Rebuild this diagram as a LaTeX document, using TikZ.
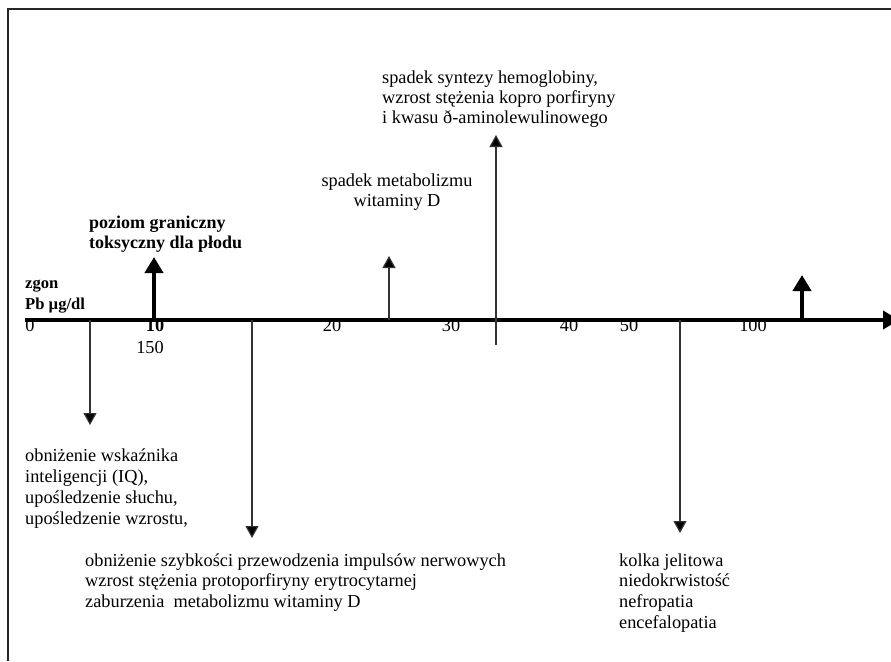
\documentclass[tikz,border=0pt]{standalone}
\usepackage{fontspec}
\setmainfont{Liberation Serif}
\usetikzlibrary{arrows.meta}
\newcommand\mlinesl[1]{\begin{tabular}[t]{@{}l@{}}#1\end{tabular}}
\newcommand\mlinesc[1]{\begin{tabular}[t]{@{}c@{}}#1\end{tabular}}
\tikzset{
  txt/.style={anchor=base west, inner sep=0pt, font=\fontsize{18.3}{20.7}\selectfont},
  txtc/.style={anchor=base, inner sep=0pt, font=\fontsize{18.3}{20.7}\selectfont},
  num/.style={anchor=base, inner sep=0pt, font=\fontsize{18.3}{20.7}\selectfont},
  thinarr/.style={line width=1.2pt, draw=black!80, -{Triangle[width=13pt,length=12pt,fill=black]}},
  thinline/.style={line width=1.2pt, draw=black!80},
  thickarr/.style={line width=4pt, -{Triangle[width=18pt,length=16pt]}},
  axisline/.style={line width=4pt, -{Triangle[width=18pt,length=16pt]}},
  frameline/.style={line width=1.3pt, draw=black!85},
}
\begin{document}
\begin{tikzpicture}[x=1pt, y=-1pt]
\clip (0,0) rectangle (891,661);
\fill[white] (0,0) rectangle (891,661);
% frame
\draw[frameline] (8,661) -- (8,9) -- (891,9);

% tick labels (drawn before the axis so the axis covers their tops)
\node[num] (n0) at (30,331) {0};
\node[num, font=\fontsize{18.3}{20.7}\selectfont\bfseries] (n10) at (155,331) {10};
\node[num] (n150) at (150,353) {150};
\node[num] (n20) at (332,331) {20};
\node[num] (n30) at (451,331) {30};
\node[num] (n40) at (569,331) {40};
\node[num] (n50) at (629,331) {50};
\node[num] (n100) at (753,331) {100};

% axis
\coordinate (ax0) at (25,320);
\coordinate (ax1) at (899,320);
\draw[axisline] (ax0) -- (ax1);

% points on the axis and arrow ends
\coordinate (p90) at (90,320);   \coordinate (e90) at (90,425);
\coordinate (p154) at (154,322); \coordinate (e154) at (154,257);
\coordinate (p252) at (252,320); \coordinate (e252) at (252,538);
\coordinate (p389) at (389,320); \coordinate (e389) at (389,256);
\coordinate (p496) at (496,345); \coordinate (e496) at (496,135);
\coordinate (p680) at (680,320); \coordinate (e680) at (680,533);
\coordinate (p802) at (802,322); \coordinate (e802) at (802,275);

\draw[thinarr] (p90) -- (e90);
\draw[thinarr] (p252) -- (e252);
\draw[thinarr] (p389) -- (e389);
\draw[thinarr] (p496) -- (e496);
\draw[thinarr] (p680) -- (e680);
\draw[thickarr] (p154) -- (e154);
\draw[thickarr] (p802) -- (e802);

% texts
\node[txt, font=\fontsize{16.6}{21}\selectfont\bfseries] (zgon) at (25,288)
  {\mlinesl{zgon\\Pb µg/dl}};
\node[txt, font=\fontsize{18}{20}\selectfont\bfseries] (poziom) at (89,228)
  {\mlinesl{poziom graniczny\\toksyczny dla płodu}};
\node[txtc] (witD) at (397,186)
  {\mlinesc{spadek metabolizmu\\witaminy D}};
\node[txt, font=\fontsize{18.3}{19.6}\selectfont] (hemo) at (382,84)
  {\mlinesl{spadek syntezy hemoglobiny,\\wzrost stężenia kopro porfiryny\\i kwasu ð-aminolewulinowego}};
\node[txt, font=\fontsize{18.3}{21}\selectfont] (iq) at (25,461)
  {\mlinesl{obniżenie wskaźnika\\inteligencji (IQ),\\upośledzenie słuchu,\\upośledzenie wzrostu,}};
\node[txt, font=\fontsize{18.3}{20.5}\selectfont] (nerw) at (85,566)
  {\mlinesl{obniżenie szybkości przewodzenia impulsów nerwowych\\wzrost stężenia protoporfiryny erytrocytarnej\\zaburzenia~ metabolizmu witaminy D}};
\node[txt, font=\fontsize{18.3}{20.7}\selectfont] (kolka) at (619,566)
  {\mlinesl{kolka jelitowa\\niedokrwistość\\nefropatia\\encefalopatia}};
\end{tikzpicture}
\end{document}
